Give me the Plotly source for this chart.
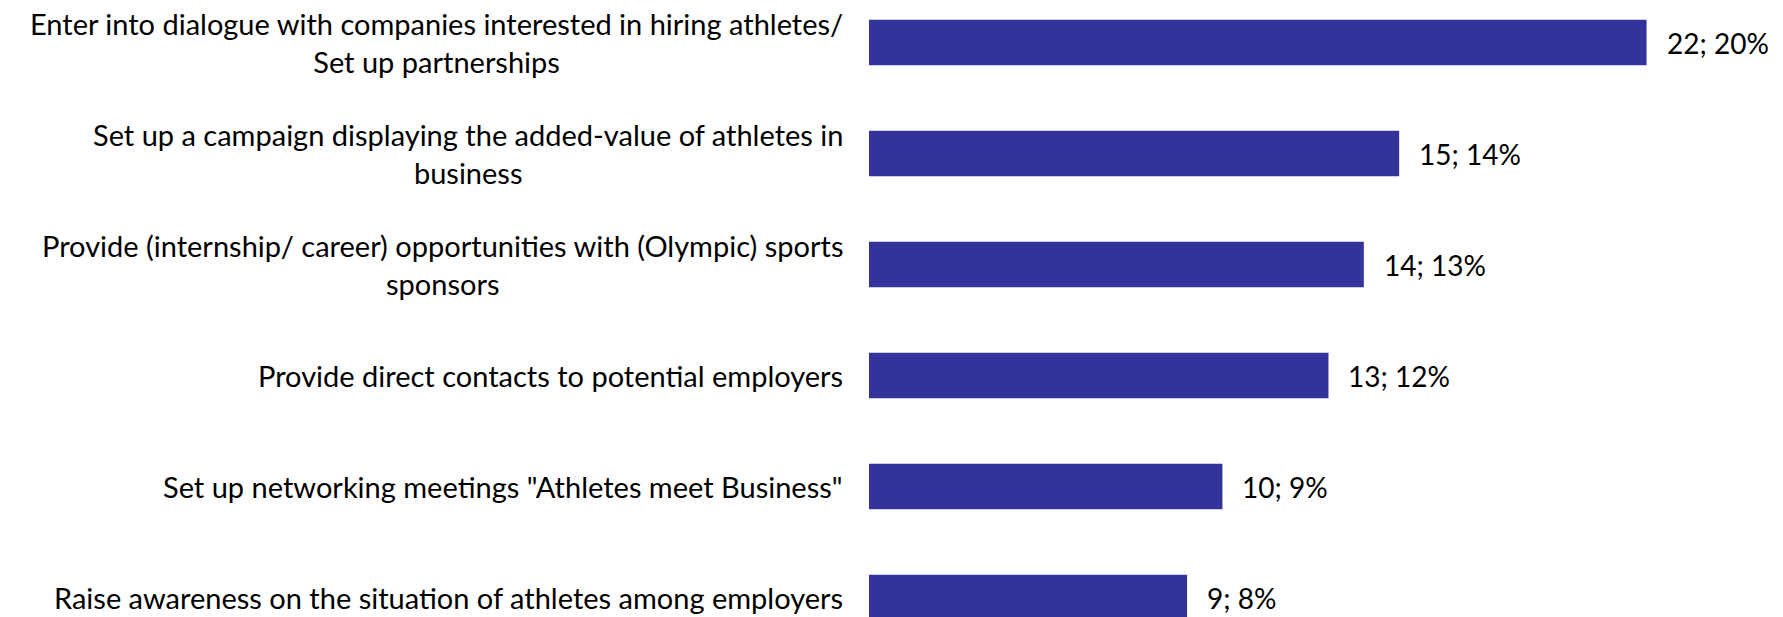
import plotly.graph_objects as go

# Survey answers, top to bottom
categories = [
    "Enter into dialogue with companies interested in hiring athletes/<br>Set up partnerships",
    "Set up a campaign displaying the added-value of athletes in<br>business",
    "Provide (internship/ career) opportunities with (Olympic) sports<br>sponsors",
    "Provide direct contacts to potential employers",
    "Set up networking meetings \"Athletes meet Business\"",
    "Raise awareness on the situation of athletes among employers",
]
counts = [22, 15, 14, 13, 10, 9]
percents = [20, 14, 13, 12, 9, 8]

BAR_COLOR = "#333399"
FONT = "Lato"
LABEL_SIZE = 29
VALUE_SIZE = 28

fig = go.Figure(
    go.Bar(
        x=counts,
        y=categories,
        orientation="h",
        marker=dict(color=BAR_COLOR, line=dict(width=0)),
        width=0.41,
        hoverinfo="skip",
    )
)

# Category labels: right-aligned block, lines centred within it
for cat in categories:
    fig.add_annotation(
        x=0, xref="x", y=cat, yref="y",
        text=cat, showarrow=False,
        xanchor="right", yanchor="middle", align="center",
        xshift=-24,
        font=dict(family=FONT, size=LABEL_SIZE, color="#000000"),
    )

# Value labels "count; percent" beside each bar
for cat, c, p in zip(categories, counts, percents):
    fig.add_annotation(
        x=c, xref="x", y=cat, yref="y",
        text=f"{c}; {p}%", showarrow=False,
        xanchor="left", yanchor="middle",
        xshift=18,
        font=dict(family=FONT, size=VALUE_SIZE, color="#000000"),
    )

fig.update_layout(
    width=1783,
    height=617,
    margin=dict(l=869, r=0, t=0, b=0),
    paper_bgcolor="white",
    plot_bgcolor="white",
    showlegend=False,
    xaxis=dict(range=[0, 25.86], visible=False),
    yaxis=dict(
        type="category",
        range=[5.175, -0.384],
        visible=False,
    ),
)

fig.write_html("out.html")
